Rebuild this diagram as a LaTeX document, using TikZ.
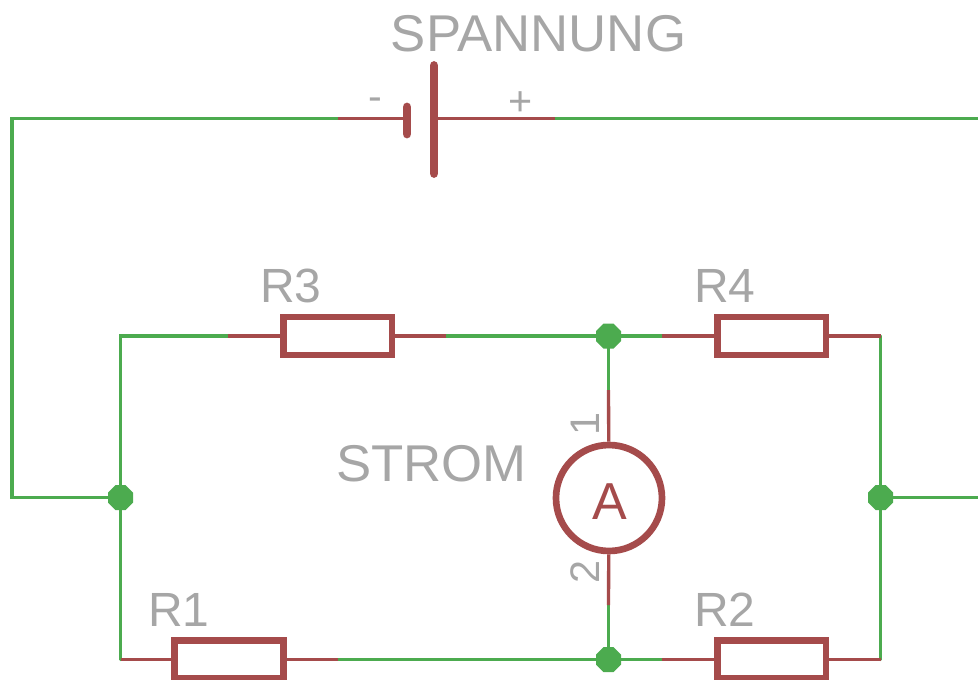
\documentclass[tikz,border=0pt]{standalone}
\usepackage{fontspec}
\setmainfont{Liberation Sans}
\definecolor{netgreen}{HTML}{4CAB4F}
\definecolor{partred}{HTML}{A54B4B}
\definecolor{labelgray}{HTML}{A6A6A6}
\tikzset{
  x=0.75pt,y=-0.75pt,
  net/.style={draw=netgreen,line width=2.5pt,line cap=round,line join=miter},
  pin/.style={draw=partred,line width=2.5pt},
  plate/.style={draw=partred,line width=6.6pt,line cap=round},
  resistor/.style={draw=partred,fill=white,line width=5pt,rectangle,minimum width=81.5pt,minimum height=28.5pt,inner sep=0pt},
  meter/.style={circle,draw=partred,line width=5pt,fill=white,minimum size=79.5pt,inner sep=0pt},
  meterlabel/.style={text=partred,inner sep=0pt,font=\fontsize{39}{41}\selectfont},
  big/.style={text=labelgray,inner sep=0pt,font=\fontsize{38.8}{41}\selectfont,xscale=1.02,transform shape},
  mid/.style={text=labelgray,inner sep=0pt,font=\fontsize{36}{38}\selectfont},
  small/.style={text=labelgray,inner sep=0pt,font=\fontsize{31}{33}\selectfont}
}
\newcommand{\junctionmark}[1]{\fill[netgreen] (#1) ++(-12.5,-5) -- ++(7.5,-7.5) -- ++(10,0) -- ++(7.5,7.5) -- ++(0,10) -- ++(-7.5,7.5) -- ++(-10,0) -- ++(-7.5,-7.5) -- cycle;}
\begin{document}
\begin{tikzpicture}
\useasboundingbox (0,0) rectangle (978,679);
% junctions
\coordinate (jL) at (120.5,497.5);
\coordinate (jR) at (880.5,497.5);
\coordinate (jT) at (608.5,336);
\coordinate (jB) at (608.5,659.5);
% corners and pin ends
\coordinate (tl) at (120.5,336);
\coordinate (bl) at (120.5,659.5);
\coordinate (tr) at (880.5,336);
\coordinate (br) at (880.5,659.5);
\coordinate (oa) at (12,118.5);
\coordinate (ob) at (12,497.5);
\coordinate (ea) at (978,118.5);
\coordinate (eb) at (978,497.5);
\coordinate (batN) at (338,118.5);
\coordinate (batP) at (555,118.5);
\coordinate (r3a) at (228,336);
\coordinate (r3b) at (446,336);
\coordinate (r4a) at (662,336);
\coordinate (r1b) at (338,659.5);
\coordinate (r2a) at (662,659.5);
\coordinate (m1) at (608.5,390);
\coordinate (m2) at (608.5,605);
\coordinate (p1a) at (407,107);
\coordinate (p1b) at (407,134);
\coordinate (p1c) at (407,118.5);
\coordinate (p2a) at (434,65.5);
\coordinate (p2b) at (434,173.5);
\coordinate (p2c) at (434,118.5);
% parts
\node[resistor] (R3) at (337.5,336) {};
\node[resistor] (R4) at (771.5,336) {};
\node[resistor] (R1) at (229,659.5) {};
\node[resistor] (R2) at (771.5,659.5) {};
\node[meter] (A) at (609,498) {};
% nets
\draw[net] (batN) -- (oa) -- (ob) -- (jL);
\draw[net] (batP) -- (ea);
\draw[net] (jR) -- (eb);
\draw[net] (jL) -- (tl) -- (r3a);
\draw[net] (jL) -- (bl);
\draw[net] (r3b) -- (jT) -- (r4a);
\draw[net] (r1b) -- (jB) -- (r2a);
\draw[net] (jR) -- (tr);
\draw[net] (jR) -- (br);
\draw[net] (jT) -- (m1);
\draw[net] (jB) -- (m2);
\junctionmark{jL}
\junctionmark{jR}
\junctionmark{jT}
\junctionmark{jB}
% pins
\draw[pin] (batN) -- (p1c);
\draw[pin] (p2c) -- (batP);
\draw[pin] (r3a) -- (R3);
\draw[pin] (R3) -- (r3b);
\draw[pin] (r4a) -- (R4);
\draw[pin] (R4) -- (tr);
\draw[pin] (bl) -- (R1);
\draw[pin] (R1) -- (r1b);
\draw[pin] (r2a) -- (R2);
\draw[pin] (R2) -- (br);
\draw[pin] (m1) -- (A);
\draw[pin] (A) -- (m2);
% battery plates
\draw[plate] (p1a) -- (p1b);
\draw[plate] (p2a) -- (p2b);
% labels
\node[meterlabel,anchor=base] (lA) at (610,519) {A};
\node[big,anchor=base] (lS) at (538.5,51) {SPANNUNG};
\node[big,anchor=base] (lT) at (431.5,481) {STROM};
\node[mid,anchor=base] (l3) at (291,302) {R3};
\node[mid,anchor=base] (l4) at (725,302) {R4};
\node[mid,anchor=base] (l1) at (179,626) {R1};
\node[mid,anchor=base] (l2) at (725,626) {R2};
\node[small,anchor=base] (lm) at (375,110) {-};
\node[small,anchor=base] (lp) at (521,115) {+};
\node[small,anchor=base,rotate=90] (n1) at (599.5,424) {1};
\node[small,anchor=base,rotate=90] (n2) at (599.5,571.5) {2};
\end{tikzpicture}
\end{document}
